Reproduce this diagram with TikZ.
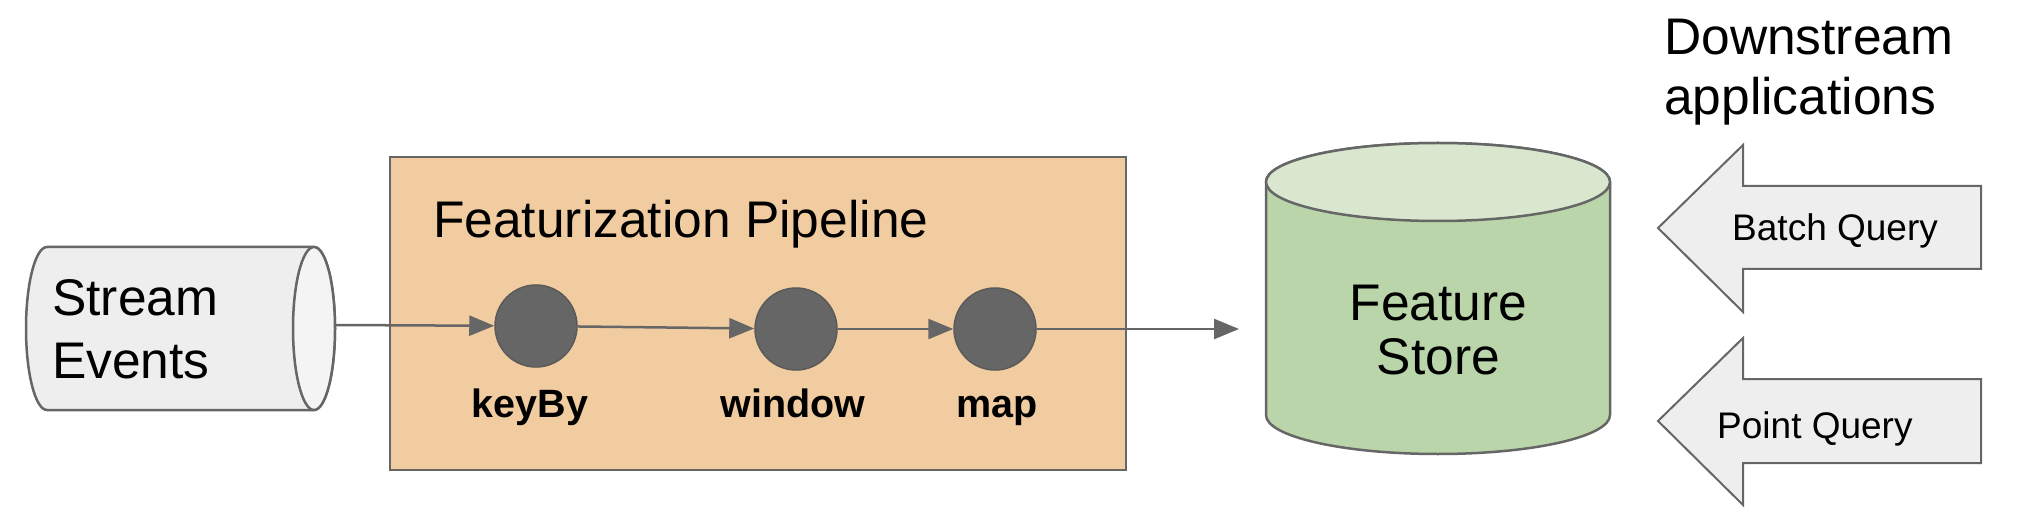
\documentclass[tikz,border=0pt]{standalone}
\usepackage{fontspec}
\setmainfont{Liberation Sans}
\usetikzlibrary{arrows.meta}
\definecolor{edge}{HTML}{666666}
\definecolor{streamfill}{HTML}{EEEEEE}
\definecolor{streamend}{HTML}{F4F4F4}
\definecolor{pipefill}{HTML}{F2CCA1}
\definecolor{dotfill}{HTML}{666666}
\definecolor{dotedge}{HTML}{5A5A5A}
\definecolor{fsbody}{HTML}{BAD5AA}
\definecolor{fstop}{HTML}{D9E7CF}
\definecolor{qfill}{HTML}{EEEEEE}
\tikzset{
  bigtext/.style={font=\fontsize{51.5}{60}\selectfont, inner sep=0pt},
  qtext/.style={font=\fontsize{37}{42}\selectfont, inner sep=0pt},
  optext/.style={font=\fontsize{39.5}{45}\selectfont\bfseries, inner sep=0pt},
  shapeline/.style={draw=edge, line width=2.5pt},
  opdot/.style={circle, draw=dotedge, line width=1.5pt, fill=dotfill, minimum size=82pt, inner sep=0pt},
  flow/.style={draw=edge, line width=2.5pt, -{Triangle[length=25pt,width=20pt]}},
}
\begin{document}
\begin{tikzpicture}[x=1pt,y=1pt]
\useasboundingbox (0,0) rectangle (2028,528);

% Stream Events cylinder (horizontal)
\draw[shapeline, fill=streamfill] (47,281) -- (314,281)
  arc[start angle=90, end angle=-90, x radius=21, y radius=81.5]
  -- (47,118) arc[start angle=270, end angle=90, x radius=21, y radius=81.5] -- cycle;
\draw[shapeline, fill=streamend] (314,199.5) ellipse [x radius=21, y radius=81.5];
\coordinate (streamout) at (335,203);
\node[bigtext, anchor=base west, align=left] (stream) at (52,213) {Stream};
\node[bigtext, anchor=base west, align=left] (events) at (52,150) {Events};

% Featurization pipeline box
\node[draw=edge, line width=2.5pt, fill=pipefill, minimum width=736pt, minimum height=313pt, inner sep=0pt] (pipe) at (758,214.5) {};
\node[bigtext, anchor=base west] (pipetitle) at (433,290) {Featurization Pipeline};

% Operators
\node[opdot] (keyby) at (536,202) {};
\node[opdot] (window) at (796,199) {};
\node[opdot] (map) at (995,199) {};
\node[optext, anchor=base] (keybyl) at (530,111) {keyBy};
\node[optext, anchor=base] (windowl) at (793,111) {window};
\node[optext, anchor=base] (mapl) at (997,111) {map};

% Feature Store cylinder (vertical)
\draw[shapeline, fill=fsbody] (1266,346) -- (1266,113)
  arc[start angle=180, end angle=360, x radius=172, y radius=39]
  -- (1610,346) arc[start angle=0, end angle=180, x radius=172, y radius=39] -- cycle;
\draw[shapeline, fill=fstop] (1438,346) ellipse [x radius=172, y radius=39];
\coordinate (fsin) at (1239,199);
\node[bigtext, anchor=base] (feature) at (1438.5,208) {Feature};
\node[bigtext, anchor=base] (store) at (1438.5,154) {Store};

% Connectors
\draw[flow] (streamout) -- (keyby);
\draw[flow] (keyby) -- (window);
\draw[flow] (window) -- (map);
\draw[flow] (map) -- (fsin);

% Downstream applications
\node[bigtext, anchor=base west] (down) at (1664,473) {Downstream};
\node[bigtext, anchor=base west] (apps) at (1664,413) {applications};

% Query arrows
\draw[draw=edge, line width=2pt, fill=qfill] (1658,300) -- (1743,383) -- (1743,342) -- (1981,342)
  -- (1981,259) -- (1743,259) -- (1743,216) -- cycle;
\node[qtext, anchor=base west] (batch) at (1732,287) {Batch Query};
\draw[draw=edge, line width=2pt, fill=qfill] (1658,107) -- (1743,190) -- (1743,149) -- (1981,149)
  -- (1981,65) -- (1743,65) -- (1743,23) -- cycle;
\node[qtext, anchor=base west] (point) at (1717,90) {Point Query};
\end{tikzpicture}
\end{document}
